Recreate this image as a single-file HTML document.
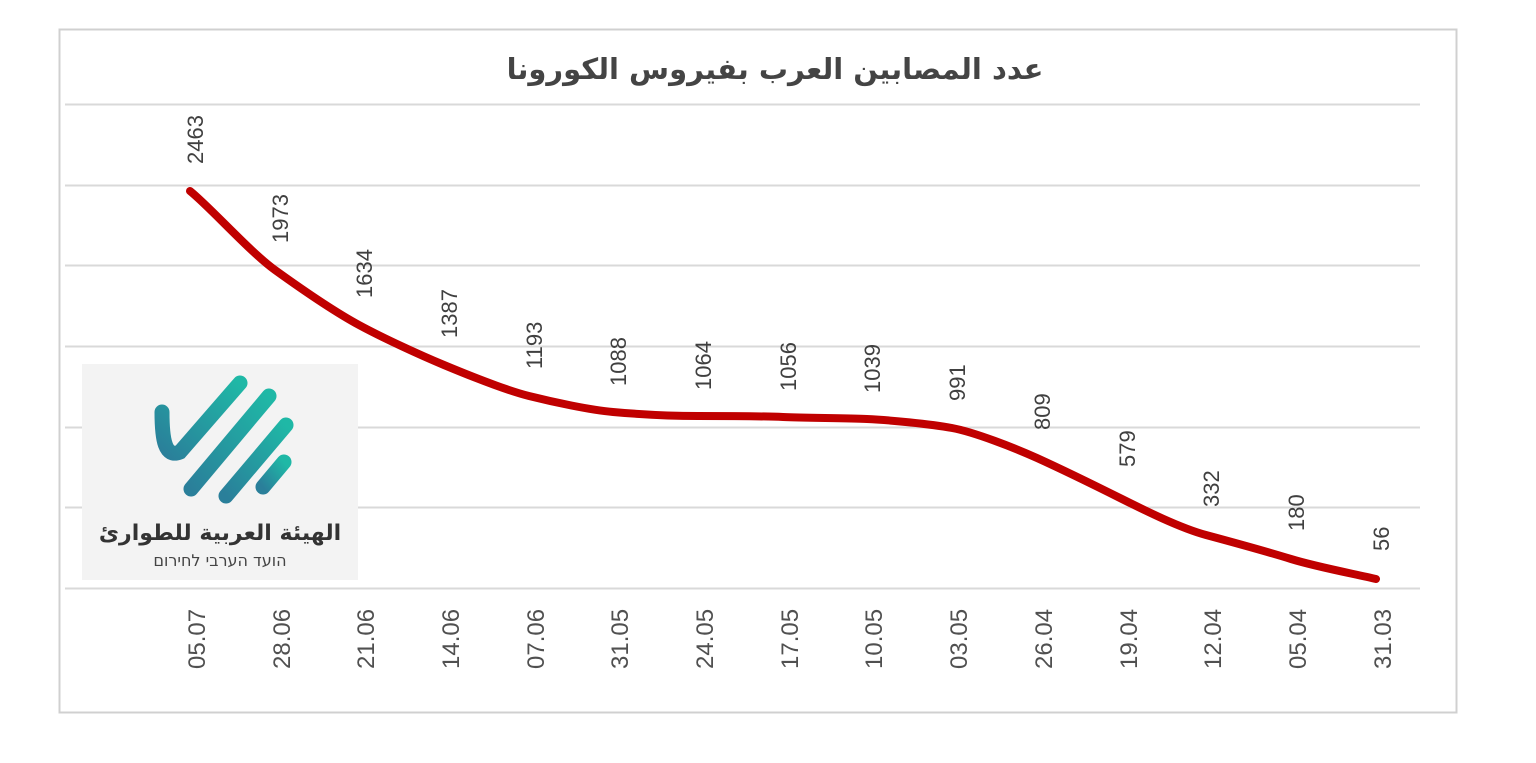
<!DOCTYPE html>
<html><head><meta charset="utf-8"><style>
body{margin:0;background:#fff;width:1536px;height:763px;overflow:hidden}
svg{display:block}
</style></head><body>
<svg width="1536" height="763" viewBox="0 0 1536 763" xmlns="http://www.w3.org/2000/svg" font-family="Liberation Sans, DejaVu Sans, sans-serif">
<rect x="59.5" y="29.5" width="1397" height="683" fill="#fff" stroke="#d0d0d0" stroke-width="2"/>
<text x="775" y="79" text-anchor="middle" font-size="29" font-weight="bold" fill="#444" font-family="DejaVu Sans, sans-serif" direction="rtl">عدد المصابين العرب بفيروس الكورونا</text>
<g stroke="#d9d9d9" stroke-width="2">
<line x1="65" x2="1420" y1="104.5" y2="104.5"/>
<line x1="65" x2="1420" y1="185.5" y2="185.5"/>
<line x1="65" x2="1420" y1="265.5" y2="265.5"/>
<line x1="65" x2="1420" y1="346.5" y2="346.5"/>
<line x1="65" x2="1420" y1="427.5" y2="427.5"/>
<line x1="65" x2="1420" y1="507.5" y2="507.5"/>
<line x1="65" x2="1420" y1="588.5" y2="588.5"/>
</g>
<path d="M190,191 C210,207 250,252 275,270 S335,312 359,325 S420,355 444,365 S505,390 529,396 S590,410 613,412 S670,416 698,416 S760,416 783,417 S845,418 867,419 S930,424 952,428 S1015,448 1037,458 S1100,488 1122,499 S1180,528 1206,535 S1265,551 1291,559 S1355,574 1376,579" fill="none" stroke="#c00000" stroke-width="8" stroke-linecap="round" stroke-linejoin="round"/>
<g font-size="22" fill="#404040">
<text transform="translate(203,164) rotate(-90)">2463</text>
<text transform="translate(288,243) rotate(-90)">1973</text>
<text transform="translate(372,298) rotate(-90)">1634</text>
<text transform="translate(457,338) rotate(-90)">1387</text>
<text transform="translate(542,369) rotate(-90)">1193</text>
<text transform="translate(626,386) rotate(-90)">1088</text>
<text transform="translate(711,390) rotate(-90)">1064</text>
<text transform="translate(796,391) rotate(-90)">1056</text>
<text transform="translate(880,393) rotate(-90)">1039</text>
<text transform="translate(965,401) rotate(-90)">991</text>
<text transform="translate(1050,430) rotate(-90)">809</text>
<text transform="translate(1135,467) rotate(-90)">579</text>
<text transform="translate(1219,507) rotate(-90)">332</text>
<text transform="translate(1304,531) rotate(-90)">180</text>
<text transform="translate(1389,551) rotate(-90)">56</text>
</g>
<g font-size="24" fill="#505050">
<text transform="translate(205,669) rotate(-90)">05.07</text>
<text transform="translate(290,669) rotate(-90)">28.06</text>
<text transform="translate(374,669) rotate(-90)">21.06</text>
<text transform="translate(459,669) rotate(-90)">14.06</text>
<text transform="translate(544,669) rotate(-90)">07.06</text>
<text transform="translate(628,669) rotate(-90)">31.05</text>
<text transform="translate(713,669) rotate(-90)">24.05</text>
<text transform="translate(798,669) rotate(-90)">17.05</text>
<text transform="translate(882,669) rotate(-90)">10.05</text>
<text transform="translate(967,669) rotate(-90)">03.05</text>
<text transform="translate(1052,669) rotate(-90)">26.04</text>
<text transform="translate(1137,669) rotate(-90)">19.04</text>
<text transform="translate(1221,669) rotate(-90)">12.04</text>
<text transform="translate(1306,669) rotate(-90)">05.04</text>
<text transform="translate(1391,669) rotate(-90)">31.03</text>
</g>
<rect x="82" y="364" width="276" height="216" fill="#f3f3f3"/>
<defs><linearGradient id="g" x1="0" y1="1" x2="1" y2="0"><stop offset="0" stop-color="#2a7f9a"/><stop offset="1" stop-color="#1fb8a6"/></linearGradient></defs>
<g stroke="url(#g)" stroke-width="15" stroke-linecap="round" fill="none">
<path d="M162,412 C162,440 165,458 180,452 L240,383"/>
<line x1="191" y1="489" x2="269" y2="396"/>
<line x1="226" y1="496" x2="286" y2="425"/>
<line x1="263" y1="487" x2="284" y2="462"/>
</g>
<text x="220" y="540" text-anchor="middle" font-size="22" font-weight="bold" fill="#333" font-family="DejaVu Sans, sans-serif" direction="rtl">الهيئة العربية للطوارئ</text>
<text x="220" y="566" text-anchor="middle" font-size="16" fill="#444" font-family="DejaVu Sans, sans-serif" direction="rtl">הועד הערבי לחירום</text>
</svg>
</body></html>
